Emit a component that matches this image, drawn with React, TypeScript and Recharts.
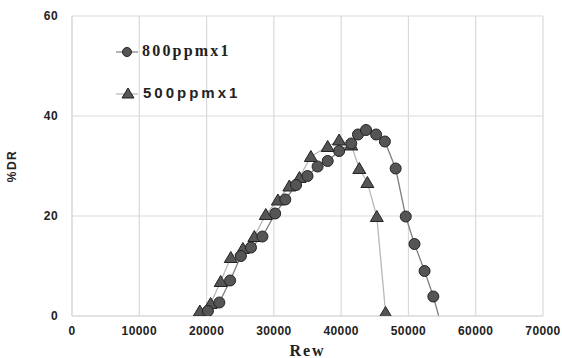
import React from "react";
import { LineChart, Line, XAxis, YAxis, CartesianGrid, Label } from "recharts";

const rew800 = [20200, 21900, 23500, 25100, 26600, 28300, 30200, 31700, 33300, 35000, 36500, 38000, 39700, 41500, 42500, 43700, 45200, 46500, 48100, 49600, 50900, 52400, 53700, 54500];
const dr800 = [1.0, 2.7, 7.1, 12.0, 13.7, 15.9, 20.5, 23.3, 26.2, 28.0, 29.9, 31.0, 33.0, 34.5, 36.3, 37.2, 36.3, 34.9, 29.5, 19.9, 14.4, 9.0, 3.9, 0];
const rew500 = [19000, 20600, 22100, 23600, 25400, 27100, 28800, 30600, 32300, 33800, 35500, 38000, 39700, 41500, 42700, 43900, 45300, 46600];
const dr500 = [1.0, 2.5, 6.9, 11.7, 13.5, 15.9, 20.3, 23.2, 26.0, 27.7, 31.9, 33.9, 35.2, 34.2, 29.5, 26.7, 19.9, 0.7];
const xTicks = [0, 10000, 20000, 30000, 40000, 50000, 60000, 70000];
const yTicks = [0, 20, 40, 60];

const series800 = rew800.map((x, i) => ({ x, y: dr800[i], hide: i === rew800.length - 1 }));
const series500 = rew500.map((x, i) => ({ x, y: dr500[i] }));

const FILL = "#555555";
const EDGE = "#222222";

const CircleDot = (props: any) => {
  const { cx, cy, payload, index } = props;
  if (payload && payload.hide) return <g key={index} />;
  return <circle key={index} cx={cx} cy={cy} r={5.5} fill={FILL} stroke={EDGE} strokeWidth={1} />;
};

const TriDot = (props: any) => {
  const { cx, cy, index } = props;
  return (
    <path
      key={index}
      d={`M${cx},${cy - 6} L${cx + 6.5},${cy + 5} L${cx - 6.5},${cy + 5} Z`}
      fill={FILL}
      stroke={EDGE}
      strokeWidth={1}
    />
  );
};

// legend drawn over the plot, top-left
const LegendBox = () => (
  <div style={{ position: "absolute", left: 114, top: 39, width: 160, height: 70 }}>
    <svg width={30} height={70} style={{ position: "absolute", left: 0, top: 0 }}>
      <line x1={2} y1={13} x2={24} y2={13} stroke="#808080" strokeWidth={1.2} />
      <circle cx={13} cy={13} r={4.5} fill={FILL} stroke={EDGE} />
      <line x1={2} y1={55} x2={24} y2={55} stroke="#b3b3b3" strokeWidth={1.2} />
      <path d="M14,49 L20,59 L8,59 Z" fill={FILL} stroke={EDGE} />
    </svg>
    <div
      style={{
        position: "absolute",
        left: 28,
        top: 3,
        fontFamily: "'Liberation Serif', serif",
        fontWeight: 700,
        fontSize: 16,
        letterSpacing: 2.2,
        color: "#222",
        whiteSpace: "nowrap",
      }}
    >
      800ppmx1
    </div>
    <div
      style={{
        position: "absolute",
        left: 29,
        top: 45,
        fontFamily: "'Liberation Sans', Arial, sans-serif",
        fontWeight: 700,
        fontSize: 15,
        letterSpacing: 3,
        color: "#222",
        whiteSpace: "nowrap",
      }}
    >
      500ppmx1
    </div>
  </div>
);

const tickStyle = {
  fontFamily: "'Liberation Sans', Arial, sans-serif",
  fontSize: 12,
  fontWeight: 700,
  fill: "#222",
  letterSpacing: 0.4,
};

export default function App() {
  return (
    <div style={{ position: "absolute", left: 0, top: 0, width: 562, height: 358, background: "#fff" }}>
      <LineChart width={562} height={358} margin={{ top: 16, right: 19, bottom: 0, left: 12 }}>
        <CartesianGrid stroke="#d9d9d9" strokeWidth={1.2} />
        <XAxis
          type="number"
          dataKey="x"
          domain={[0, 70000]}
          ticks={xTicks}
          allowDataOverflow
          tickLine={false}
          axisLine={{ stroke: "#d9d9d9" }}
          tick={tickStyle}
          tickMargin={4}
          height={42}
        >
          <Label
            value="Rew"
            position="insideBottom"
            offset={2}
            style={{
              fontFamily: "'Liberation Serif', serif",
              fontWeight: 700,
              fontSize: 16,
              letterSpacing: 2,
              fill: "#222",
            }}
          />
        </XAxis>
        <YAxis
          type="number"
          domain={[0, 60]}
          ticks={yTicks}
          allowDataOverflow
          tickLine={false}
          axisLine={{ stroke: "#d9d9d9" }}
          tick={tickStyle}
          tickMargin={8}
          width={60}
        >
          <Label
            value="%DR"
            angle={-90}
            position="insideLeft"
            offset={0}
            style={{
              fontFamily: "'Liberation Sans', Arial, sans-serif",
              fontWeight: 700,
              fontSize: 12,
              letterSpacing: 1.5,
              fill: "#222",
              textAnchor: "middle",
            }}
          />
        </YAxis>
        <Line
          data={series500}
          dataKey="y"
          name="500ppmx1"
          stroke="#b8b8b8"
          strokeWidth={1.3}
          dot={TriDot}
          activeDot={false}
          isAnimationActive={false}
        />
        <Line
          data={series800}
          dataKey="y"
          name="800ppmx1"
          stroke="#7f7f7f"
          strokeWidth={1.3}
          dot={CircleDot}
          activeDot={false}
          isAnimationActive={false}
        />
      </LineChart>
      <LegendBox />
    </div>
  );
}
